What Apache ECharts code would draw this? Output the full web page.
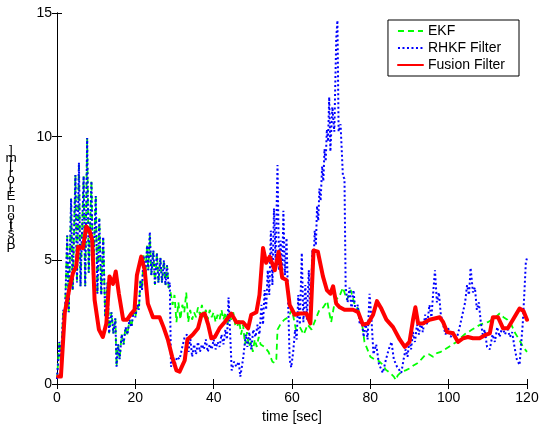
<!DOCTYPE html>
<html>
<head>
<meta charset="utf-8">
<script src="https://cdn.jsdelivr.net/npm/echarts@6/dist/echarts.min.js"></script>
<style>
  html, body { margin: 0; padding: 0; background: #fff; }
</style>
</head>
<body>
<div id="chart" style="width: 540px; height: 426px"></div>
<script>
// [time (s), position error (m)]
const ekfData = [
  [0,0.2],[0.6,1.7],[1.0,0.9],[1.6,3.0],[2.0,2.6],[2.6,6.0],[3.0,2.9],[3.6,7.5],[4.0,3.8],[4.7,8.45],
  [5.1,4.1],[5.6,8.95],[6.0,3.95],[6.8,8.4],[7.2,3.95],[7.7,9.95],[8.1,4.5],[8.8,8.2],[9.2,4.2],[9.9,7.6],
  [10.3,3.65],[10.8,6.7],[11.3,3.6],[11.8,5.95],[12.3,2.7],[12.9,4.1],[13.3,2.05],[13.9,2.9],[14.4,2.05],[14.9,2.65],
  [15.2,0.7],[15.6,1.6],[16.0,1.0],[16.5,2.0],[17.0,1.6],[17.5,2.3],[18.0,2.0],[18.5,2.6],[19.0,2.3],[19.5,2.9],
  [20.0,2.7],[20.5,3.2],[20.9,3.0],[21.3,4.2],[21.7,3.8],[22.1,5.2],[22.5,4.3],[23.0,5.6],[23.3,4.6],[23.7,6.0],
  [24.1,4.4],[24.6,5.4],[25.0,4.0],[25.5,5.3],[25.9,4.1],[26.4,5.1],[26.8,4.1],[27.3,5.0],[27.7,4.0],[28.1,4.8],
  [28.5,3.9],[29.0,3.7],[29.5,3.2],[30.0,3.6],[30.5,2.5],[31.0,3.3],[31.5,2.6],[32.0,3.2],[32.5,2.9],[33.0,3.7],
  [33.5,2.5],[34.0,3.0],[34.5,2.6],[35,2.9],[35.5,2.7],[36,3.1],[36.5,2.8],[37,3.2],[37.5,2.7],[38,3.0],
  [38.5,2.6],[39,3.0],[39.5,2.7],[40,2.9],[40.5,2.5],[41,2.8],[41.5,2.6],[42,3.0],[42.5,2.6],[43,2.9],
  [43.5,2.4],[44,2.8],[44.5,2.6],[45,2.9],[45.5,2.4],[46,2.3],[46.5,2.6],[47,2.0],[47.5,2.4],[48,1.6],
  [48.5,2.1],[49,1.5],[49.5,1.7],[50,1.3],[50.5,1.8],[51,1.5],[51.5,1.9],[52,1.6],[53,1.5],[54,1.3],
  [55,0.9],[55.6,0.85],[56,1.0],[56.3,2.2],[57,2.4],[58,2.6],[59,2.7],[60,3.0],[60.5,2.6],[61,2.2],
  [62,2.3],[63,2.0],[64,2.4],[65,2.2],[66,2.6],[67,3.0],[68,3.1],[69,3.35],[69.5,2.9],[70,2.5],
  [71,3.4],[72,3.5],[73,3.9],[74,3.4],[75,3.8],[76,3.2],[77,3.0],[78,2.3],[78.5,1.7],[79,1.5],
  [80,1.1],[81,1.0],[82,0.95],[83,0.8],[84,0.57],[85,0.45],[86,0.3],[86.5,0.16],[87,0.35],[88,0.5],
  [89,0.55],[90,0.63],[91,0.75],[92,0.84],[93,1.0],[94,1.17],[95,1.2],[96,1.1],[97,1.25],[98,1.3],
  [99,1.4],[100,1.5],[101,1.6],[102,1.7],[103,1.85],[104,2.0],[105,2.1],[106,2.2],[107,2.3],[108,2.4],
  [109,2.45],[110,2.5],[111,2.6],[112,2.7],[113,2.85],[114,2.7],[115,2.6],[116,2.4],[117,2.05],[118,1.8],
  [119,1.5],[120,1.3]
];

const rhkfData = [
  [0,0.2],[0.6,1.7],[1.0,0.9],[1.6,3.0],[2.0,2.6],[2.6,6.0],[3.0,2.9],[3.6,7.5],[4.0,3.8],[4.7,8.45],
  [5.1,4.1],[5.6,8.95],[6.0,3.95],[6.8,8.4],[7.2,3.95],[7.7,9.95],[8.1,4.5],[8.8,8.2],[9.2,4.2],[9.9,7.6],
  [10.3,3.65],[10.8,6.7],[11.3,3.6],[11.8,5.95],[12.3,2.7],[12.9,4.1],[13.3,2.05],[13.9,2.9],[14.4,2.05],[14.9,2.65],
  [15.2,0.7],[15.6,1.6],[16.0,1.0],[16.5,2.0],[17.0,1.6],[17.5,2.3],[18.0,2.0],[18.5,2.6],[19.0,2.3],[19.5,2.9],
  [20.0,2.7],[20.5,3.2],[20.9,3.0],[21.3,4.2],[21.7,3.8],[22.1,5.2],[22.5,4.3],[23.0,5.6],[23.3,4.6],[23.7,6.15],
  [24.1,4.4],[24.6,5.4],[25.0,4.0],[25.5,5.3],[25.9,4.1],[26.4,5.1],[26.8,4.1],[27.3,5.0],[27.7,4.0],[28.1,4.8],
  [28.5,3.9],[28.8,4.1],[29.1,0.7],[29.6,1.0],[30.1,0.8],[30.7,1.1],[31.3,1.0],[32.0,1.5],[32.6,1.9],[33.2,2.0],
  [33.6,1.3],[34.0,1.9],[34.5,1.1],[35.0,1.6],[35.5,1.2],[36.0,1.7],[36.5,1.3],[37.0,1.6],[37.5,1.4],[38.0,1.8],
  [38.5,1.3],[39.0,1.6],[39.5,1.4],[40.0,1.8],[40.5,1.4],[41.0,1.7],[41.5,1.5],[42.0,2.0],[42.5,1.6],[43.0,2.2],
  [43.4,1.8],[43.8,3.5],[44.3,1.7],[44.6,0.55],[45.2,0.9],[45.8,0.7],[46.4,0.9],[46.8,0.3],[47.5,1.0],[48.2,2.0],
  [48.6,1.5],[49.1,2.1],[49.6,1.4],[50.1,2.2],[50.7,1.9],[51.2,2.4],[51.7,2.0],[52.2,3.2],[52.6,2.4],[53.0,3.8],
  [53.4,3.0],[53.8,4.6],[54.2,3.6],[54.6,6.2],[55.0,4.0],[55.4,7.1],[55.8,5.0],[56.3,8.85],[56.7,4.6],[57.1,5.8],
  [57.5,4.4],[57.8,7.0],[58.2,4.4],[58.6,5.9],[59.0,3.4],[59.4,1.0],[59.8,0.67],[60.3,1.3],[60.8,2.2],[61.2,1.8],
  [61.6,3.6],[62.0,2.4],[62.5,5.3],[62.9,2.5],[63.4,4.0],[63.8,2.6],[64.3,4.6],[64.7,2.5],[65.2,5.4],[65.5,4.8],
  [65.8,6.2],[66.1,5.6],[66.4,7.2],[66.7,6.6],[67.0,7.9],[67.3,7.4],[67.7,8.8],[68.0,8.2],[68.3,9.5],[68.6,9.0],
  [68.9,10.3],[69.2,9.8],[69.5,11.6],[69.8,9.4],[70.3,11.2],[70.8,10.2],[71.3,14.0],[71.6,14.7],[71.9,10.2],[72.4,10.5],
  [73.0,8.4],[73.4,8.3],[73.7,3.9],[74.2,3.3],[74.7,3.9],
  [75.2,3.0],[75.7,3.8],[76.2,2.9],[76.8,3.2],[77.3,2.4],[77.8,2.6],[78.3,1.9],[78.8,2.5],[79.3,1.8],[79.8,3.65],
  [80.3,2.6],[80.8,1.2],[81.5,1.6],[82.2,0.8],[83.2,0.45],[84.0,1.0],[84.7,1.4],[85.4,1.7],[86.0,1.0],[86.8,0.7],
  [87.9,0.45],[88.5,1.0],[89.0,1.4],[89.5,1.1],[90.0,1.8],[90.4,1.4],[90.9,2.1],[91.4,1.7],[91.9,2.4],[92.4,2.0],
  [92.9,2.5],[93.4,2.1],[94.0,2.8],[94.5,2.4],[95.1,3.2],[95.6,2.7],[96.1,3.8],[96.5,4.6],[97.0,3.3],[97.5,3.7],
  [98.0,2.8],[98.6,2.4],[99.2,2.0],[99.8,2.3],[100.5,1.9],[101.2,2.1],[102.0,1.8],[102.8,2.3],[103.5,2.8],[104.2,3.3],
  [104.7,4.0],[105.2,3.6],[105.6,4.7],[106.2,3.7],[106.7,3.9],[107.2,3.0],[107.7,3.3],[108.2,2.5],[108.7,2.0],[109.2,2.2],
  [109.8,1.5],[110.5,1.4],[111.2,2.0],[111.8,1.7],[112.4,2.3],[113.0,1.9],[113.7,2.3],[114.4,2.0],[115.0,2.3],[115.6,1.9],
  [116.2,2.1],[116.8,1.5],[117.4,1.0],[118.1,0.77],[118.5,1.6],[118.9,2.4],[119.3,3.6],[119.7,4.9],[120,5.1]
];

const fusionData = [
  [0.3,0.3],[1.0,0.3],[2.0,2.9],[3.2,3.9],[4.1,4.5],[4.9,4.75],[5.4,5.55],[6.6,5.5],[7.5,6.37],[8.3,6.2],
  [9.0,5.8],[9.6,3.4],[10.7,2.2],[11.7,1.9],[12.6,2.45],[13.4,4.35],[14.3,4.05],[15.0,4.55],[15.8,3.65],[16.9,2.6],
  [17.9,2.6],[19.0,2.85],[19.8,3.0],[20.4,4.4],[21.5,5.15],[22.4,4.6],[23.2,3.25],[24.5,2.7],[26.2,2.7],[27.2,2.3],
  [28.3,1.8],[29.4,1.1],[30.5,0.55],[31.3,0.5],[32.6,0.95],[33.3,1.8],[34.7,2.0],[36.0,2.25],[36.9,2.8],[37.7,2.85],
  [38.6,2.4],[39.4,1.85],[40.3,1.9],[41.5,2.25],[42.8,2.5],[44.5,2.85],[45.8,2.5],[47.5,2.5],[48.8,2.25],[49.6,2.8],
  [50.9,2.9],[51.7,3.6],[52.6,5.5],[53.4,4.9],[54.3,5.15],[55.6,4.6],[56.6,5.35],[57.5,4.3],[58.6,4.2],[59.4,3.2],
  [60.7,2.8],[62.0,2.85],[63.7,2.85],[64.7,2.45],[65.5,5.4],[66.6,5.35],[67.9,4.35],[68.9,3.8],[69.8,3.65],[70.5,3.95],
  [71.3,3.25],[72.2,3.1],[73.4,3.0],[75.6,3.0],[76.9,2.9],[78.1,2.4],[79.4,2.45],[80.7,2.8],[81.7,3.35],[82.8,3.05],
  [84.1,2.6],[85.8,2.3],[87.5,1.8],[88.8,1.5],[90.0,1.7],[90.9,2.6],[91.5,3.1],[92.2,2.45],[93.4,2.45],[95.1,2.6],
  [96.4,2.65],[97.7,2.7],[98.6,2.5],[99.6,2.1],[101.1,2.05],[102.4,1.7],[103.7,1.85],[104.9,1.9],[106.2,1.85],[107.9,1.85],
  [109.6,2.0],[110.5,2.05],[111.3,2.7],[112.6,2.7],[113.9,2.25],[115.1,2.25],[116.4,2.6],[118.1,3.05],[119.1,2.95],[120,2.6]
];

const seriesNames = ['EKF', 'RHKF Filter', 'Fusion Filter'];
const xTitle = 'time [sec]';
const yTitle = 'Position Error [m]';

const font = 'Liberation Sans, Arial, sans-serif';

// y label: upright glyphs stacked bottom-to-top, each advanced by its own width
function stackedLabel(text, cx, bottom, size) {
  const ctx = document.createElement('canvas').getContext('2d');
  ctx.font = size + 'px ' + font;
  const out = [];
  let y = bottom;
  for (const ch of text) {
    const adv = ctx.measureText(ch).width;
    if (ch !== ' ') {
      out.push({
        type: 'text',
        x: cx,
        y: y - adv / 2,
        style: { text: ch, font: size + 'px ' + font, fill: '#000', align: 'center', verticalAlign: 'middle' }
      });
    }
    y -= adv;
  }
  return out;
}

const boxAxis = {
  min: 0,
  axisLine: { show: true, lineStyle: { color: '#000', width: 1 } },
  axisTick: { show: true, inside: true, length: 5, lineStyle: { color: '#000' } },
  splitLine: { show: false }
};

const chart = echarts.init(document.getElementById('chart'));
chart.setOption({
  animation: false,
  backgroundColor: '#fff',
  grid: { left: 57, right: 13, top: 13, bottom: 42, containLabel: false, outerBoundsMode: 'none' },
  legend: {
    orient: 'vertical',
    right: 21,
    top: 20,
    padding: [4, 14, 4, 9],
    itemGap: 3,
    itemWidth: 25,
    itemHeight: 12,
    borderColor: '#000',
    borderWidth: 1,
    borderRadius: 0,
    backgroundColor: '#fff',
    itemStyle: { opacity: 0 },
    textStyle: { fontFamily: font, fontSize: 14, color: '#000' },
    data: seriesNames
  },
  xAxis: [
    Object.assign({}, boxAxis, {
      type: 'value', max: 120, interval: 20, position: 'bottom',
      name: xTitle, nameLocation: 'middle', nameGap: 22,
      nameTextStyle: { fontFamily: font, fontSize: 14, color: '#000' },
      axisLabel: { fontFamily: font, fontSize: 14, color: '#000', margin: 7 }
    }),
    Object.assign({}, boxAxis, {
      type: 'value', max: 120, interval: 20, position: 'top', axisLabel: { show: false }
    })
  ],
  yAxis: [
    Object.assign({}, boxAxis, {
      type: 'value', max: 15, interval: 5, position: 'left',
      axisLabel: { fontFamily: font, fontSize: 14, color: '#000', margin: 5 }
    }),
    Object.assign({}, boxAxis, {
      type: 'value', max: 15, interval: 5, position: 'right', axisLabel: { show: false }
    })
  ],
  graphic: stackedLabel(yTitle, 11, 253, 13.5),
  series: [
    {
      name: seriesNames[0], type: 'line', data: ekfData,
      symbol: 'none', z: 2,
      lineStyle: { color: '#00ff00', width: 1.8, type: [6, 4] },
      itemStyle: { color: '#00ff00' }
    },
    {
      name: seriesNames[1], type: 'line', data: rhkfData,
      symbol: 'none', z: 3,
      lineStyle: { color: '#0000ff', width: 2, type: [2, 2.5] },
      itemStyle: { color: '#0000ff' }
    },
    {
      name: seriesNames[2], type: 'line', data: fusionData,
      symbol: 'none', z: 4,
      lineStyle: { color: '#ff0000', width: 4, join: 'round', cap: 'round' },
      itemStyle: { color: '#ff0000' }
    }
  ]
});
</script>
</body>
</html>
